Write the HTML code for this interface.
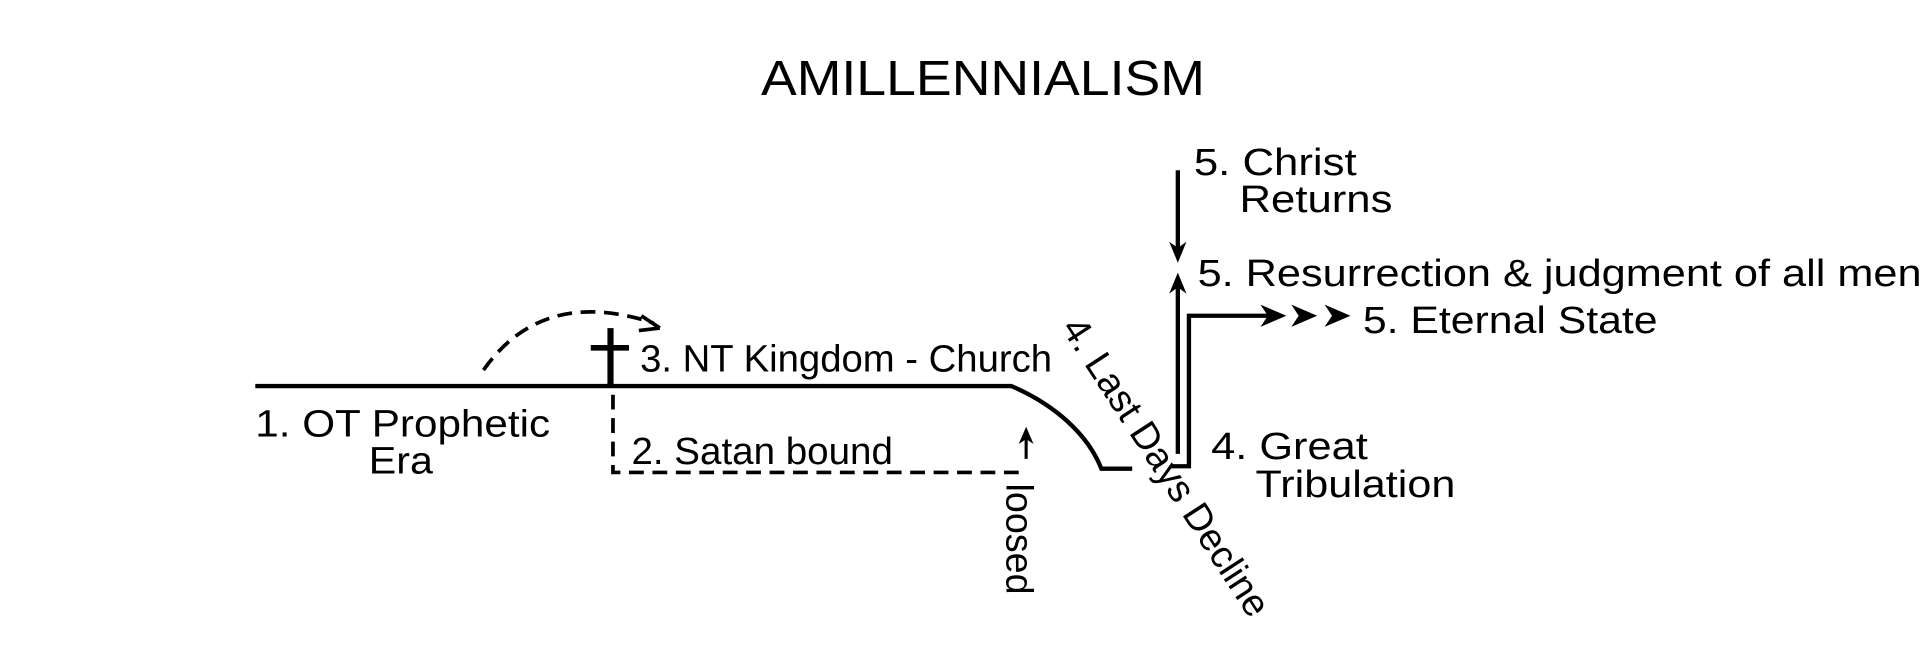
<!DOCTYPE html>
<html><head><meta charset="utf-8"><style>html,body{margin:0;padding:0;background:#fff}svg{display:block}</style></head>
<body>
<svg width="1924" height="671" viewBox="0 0 1560 544" preserveAspectRatio="none" xmlns="http://www.w3.org/2000/svg" font-family="Liberation Sans, sans-serif" fill="#000">
<text x="617" y="77" font-size="40" textLength="360" lengthAdjust="spacingAndGlyphs">AMILLENNIALISM</text>
<g stroke="#000" fill="none" stroke-width="3.5">
<path d="M207 313 H820 C855 328 882 352 893 380 H918"/>
<path d="M949 378 H964 V256 H1030"/>
<line x1="955" y1="138" x2="955" y2="205"/>
<line x1="955" y1="368" x2="955" y2="230"/>
<path d="M497 320 V383 H828" stroke-dasharray="12 7" stroke-width="3"/>
<line x1="832" y1="372" x2="832" y2="352" stroke-width="2.5"/>
<path d="M392 300 Q440 232 530 262" stroke-dasharray="12 7" stroke-width="3"/>
<line x1="495" y1="266" x2="495" y2="313" stroke-width="5"/>
<line x1="479" y1="282" x2="510" y2="282" stroke-width="4.5"/>
</g>
<path d="M955 213 L948 196 L955 201 L962 196 Z"/>
<path d="M955 221 L948 238 L955 233 L962 238 Z"/>
<path d="M1043 256 L1022 247 L1028 256 L1022 265 Z"/>
<path d="M1068 256 L1047 247 L1053 256 L1047 265 Z"/>
<path d="M1095 256 L1074 247 L1080 256 L1074 265 Z"/>
<path d="M832 346 L826 360 L832 356 L838 360 Z"/>
<path d="M535 266 L520 256 M535 266 L518 268" stroke="#000" stroke-width="3" fill="none"/>
<g font-size="31">
<text x="968" y="142" textLength="132" lengthAdjust="spacingAndGlyphs">5. Christ</text>
<text x="1005" y="172" textLength="124" lengthAdjust="spacingAndGlyphs">Returns</text>
<text x="971" y="232" textLength="587" lengthAdjust="spacingAndGlyphs">5. Resurrection &amp; judgment of all men</text>
<text x="1105" y="270" textLength="239" lengthAdjust="spacingAndGlyphs">5. Eternal State</text>
<text x="982" y="372" textLength="127" lengthAdjust="spacingAndGlyphs">4. Great</text>
<text x="1018" y="403" textLength="162" lengthAdjust="spacingAndGlyphs">Tribulation</text>
<text x="519" y="301" textLength="334" lengthAdjust="spacingAndGlyphs">3. NT Kingdom - Church</text>
<text x="207" y="354" textLength="239" lengthAdjust="spacingAndGlyphs">1. OT Prophetic</text>
<text x="299" y="384" textLength="52" lengthAdjust="spacingAndGlyphs">Era</text>
<text x="512" y="376" textLength="212" lengthAdjust="spacingAndGlyphs">2. Satan bound</text>
<text transform="translate(816 392) rotate(90)" textLength="90" lengthAdjust="spacingAndGlyphs">loosed</text>
<text transform="translate(860 266) rotate(57)" textLength="282" lengthAdjust="spacingAndGlyphs">4. Last Days Decline</text>
</g>
</svg>
</body></html>
